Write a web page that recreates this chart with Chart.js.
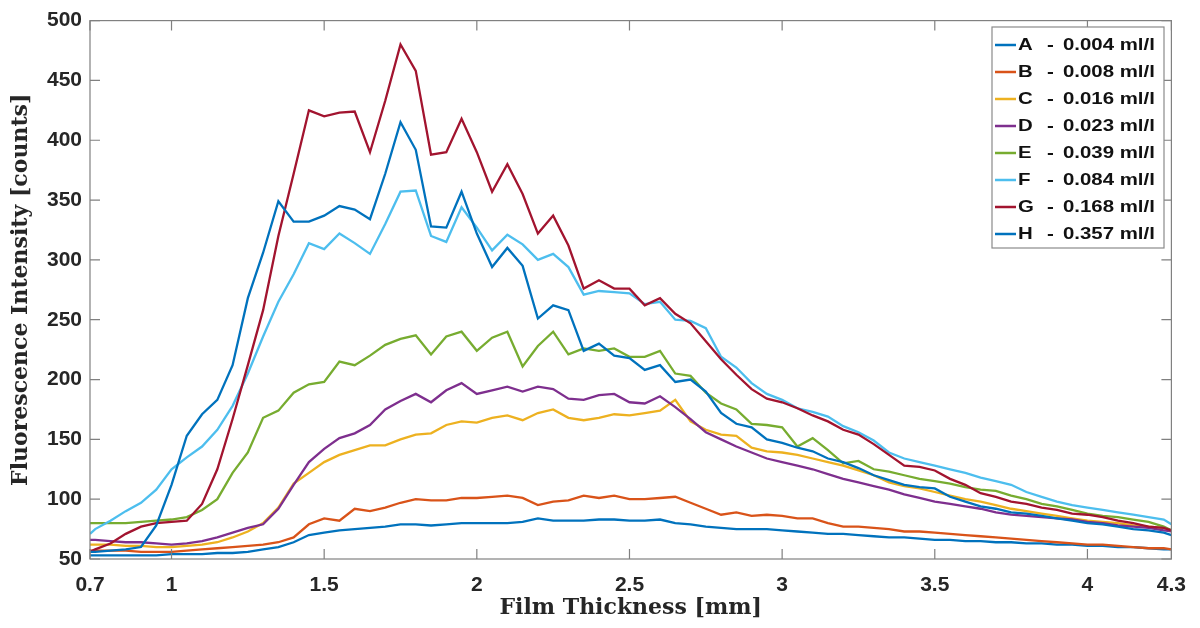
<!DOCTYPE html>
<html>
<head>
<meta charset="utf-8">
<script src="https://cdn.jsdelivr.net/npm/chart.js@4/dist/chart.umd.min.js"></script>
<style>
  html, body { margin: 0; padding: 0; background: #fff; }
  canvas { display: block; }
</style>
</head>
<body>
<canvas id="myChart" width="1200" height="628"></canvas>
<script>
// film thickness [mm] at which the curves were read
const thickness = [
  0.733, 0.75, 0.80, 0.85, 0.90, 0.95, 1.00, 1.05, 1.10, 1.15,
  1.20, 1.25, 1.30, 1.35, 1.40, 1.45, 1.50, 1.55, 1.60, 1.65,
  1.70, 1.75, 1.80, 1.85, 1.90, 1.95, 2.00, 2.05, 2.10, 2.15,
  2.20, 2.25, 2.30, 2.35, 2.40, 2.45, 2.50, 2.55, 2.60, 2.65,
  2.70, 2.75, 2.80, 2.85, 2.90, 2.95, 3.00, 3.05, 3.10, 3.15,
  3.20, 3.25, 3.30, 3.35, 3.40, 3.45, 3.50, 3.55, 3.60, 3.65,
  3.70, 3.75, 3.80, 3.85, 3.90, 3.95, 4.00, 4.05, 4.10, 4.15,
  4.20, 4.25, 4.275
];

const letters = ["A", "B", "C", "D", "E", "F", "G", "H"];
const concentrations = ["0.004 ml/l", "0.008 ml/l", "0.016 ml/l", "0.023 ml/l",
  "0.039 ml/l", "0.084 ml/l", "0.168 ml/l", "0.357 ml/l"];

// fluorescence intensity [counts]
const seriesA = [
  53, 53, 53, 53, 53, 53, 54, 54, 54, 55,
  55, 56, 58, 60, 64, 70, 72, 74, 75, 76,
  77, 79, 79, 78, 79, 80, 80, 80, 80, 81,
  84, 82, 82, 82, 83, 83, 82, 82, 83, 80,
  79, 77, 76, 75, 75, 75, 74, 73, 72, 71,
  71, 70, 69, 68, 68, 67, 66, 66, 65, 65,
  64, 64, 63, 63, 62, 62, 61, 61, 60, 60,
  59, 58, 58
];
const seriesB = [
  57, 57, 57, 57, 56, 56, 56, 57, 58, 59,
  60, 61, 62, 64, 68, 79, 84, 82, 92, 90,
  93, 97, 100, 99, 99, 101, 101, 102, 103, 101,
  95, 98, 99, 103, 101, 103, 100, 100, 101, 102,
  97, 92, 87, 89, 86, 87, 86, 84, 84, 80,
  77, 77, 76, 75, 73, 73, 72, 71, 70, 69,
  68, 67, 66, 65, 64, 63, 62, 62, 61, 60,
  59, 59, 58
];
const seriesC = [
  62, 62, 62, 61, 61, 60, 60, 61, 62, 64,
  68, 73, 80, 93, 113, 122, 131, 137, 141, 145,
  145, 150, 154, 155, 162, 165, 164, 168, 170, 166,
  172, 175, 168, 166, 168, 171, 170, 172, 174, 183,
  165, 158, 154, 153, 143, 140, 139, 137, 134, 131,
  128, 124, 120, 114, 111, 109, 106, 103, 100, 98,
  95, 92, 90, 88, 86, 84, 82, 81, 80, 78,
  77, 76, 74
];
const seriesD = [
  66, 66, 65, 64, 64, 63, 62, 63, 65, 68,
  72, 76, 79, 92, 112, 131, 142, 151, 155, 162,
  175, 182, 188, 181, 191, 197, 188, 191, 194, 190,
  194, 192, 184, 183, 187, 188, 181, 180, 186, 177,
  167, 156, 150, 144, 139, 134, 131, 128, 125, 121,
  117, 114, 111, 108, 104, 101, 98, 96, 94, 92,
  89, 87, 86, 85, 84, 83, 81, 80, 78, 77,
  76, 74, 73
];
const seriesE = [
  80, 80, 80, 80, 81, 82, 83, 85, 91, 100,
  122, 139, 168, 174, 189, 196, 198, 215, 212, 220,
  229, 234, 237, 221, 236, 240, 224, 235, 240, 211,
  228, 240, 221, 226, 224, 226, 219, 219, 224, 205,
  203, 189, 180, 175, 163, 162, 160, 144, 151, 141,
  130, 132, 125, 123, 120, 117, 115, 113, 110, 108,
  107, 103, 100, 96, 94, 91, 88, 86, 85, 83,
  81, 77, 74
];
const seriesF = [
  71, 75, 82, 90, 97, 108, 125, 135, 144, 158,
  178, 205, 236, 265, 288, 314, 309, 322, 314, 305,
  330, 357, 358, 320, 315, 344, 327, 308, 321, 313,
  300, 305, 294, 271, 274, 273, 272, 263, 265, 250,
  249, 243, 219, 210, 197, 188, 183, 176, 173, 169,
  161, 156, 149, 139, 134, 131, 128, 125, 122, 118,
  115, 112, 106, 102, 98, 95, 93, 91, 89, 87,
  85, 83, 79
];
const seriesG = [
  56, 58, 63, 71, 77, 80, 81, 82, 96, 125,
  167, 212, 258, 320, 372, 425, 420, 423, 424, 390,
  433, 480, 458, 388, 390, 418, 390, 357, 380, 355,
  322, 337, 312, 276, 283, 276, 276, 262, 268, 255,
  247, 232, 217, 204, 192, 184, 181, 176, 170, 165,
  158, 154, 146, 137, 128, 127, 124, 117, 112, 105,
  102, 98, 96, 93, 91, 88, 87, 85, 82, 80,
  77, 76, 74
];
const seriesH = [
  56, 56, 57, 58, 60, 78, 112, 153, 171, 183,
  212, 268, 306, 349, 332, 332, 337, 345, 342, 334,
  372, 415, 392, 328, 327, 357, 322, 294, 310, 295,
  251, 262, 258, 224, 230, 220, 218, 208, 212, 198,
  200, 190, 172, 163, 160, 150, 147, 143, 140, 134,
  131, 126, 120, 116, 112, 110, 109, 102, 98, 94,
  92, 89, 88, 86, 84, 82, 80, 79, 77, 75,
  74, 72, 70
];

const xTickValues = [0.733, 1, 1.5, 2, 2.5, 3, 3.5, 4, 4.275];
const yTickValues = [50, 100, 150, 200, 250, 300, 350, 400, 450, 500];

const lineColors = ["#0072BD", "#D95319", "#EDB120", "#7E2F8E",
  "#77AC30", "#4DBEEE", "#A2142F", "#0072BD"];

const allSeries = [seriesA, seriesB, seriesC, seriesD, seriesE, seriesF, seriesG, seriesH];

const datasets = allSeries.map((values, i) => ({
  label: letters[i] + "  -  " + concentrations[i],
  data: values.map((v, j) => ({ x: thickness[j], y: v })),
  borderColor: lineColors[i],
  borderWidth: 2.3,
  pointRadius: 0,
  fill: false,
  tension: 0,
  order: allSeries.length - i
}));

// the figure text is a bit wider than the font, stretch it like the original
function stretchedText(ctx, text, x, y, sx) {
  ctx.save();
  ctx.translate(x, y);
  ctx.scale(sx, 1);
  ctx.fillText(text, 0, 0);
  ctx.restore();
}

// matlab style box with inward ticks, plus the boxed legend
const matlabBox = {
  id: "matlabBox",
  afterDatasetsDraw(chart) {
    const { ctx, chartArea: a, scales } = chart;
    ctx.save();
    ctx.strokeStyle = "#808080";
    ctx.lineWidth = 1.2;
    ctx.strokeRect(a.left, a.top, a.right - a.left, a.bottom - a.top);
    ctx.beginPath();
    scales.x.ticks.forEach((t) => {
      const px = scales.x.getPixelForValue(t.value);
      ctx.moveTo(px, a.bottom); ctx.lineTo(px, a.bottom - 10);
      ctx.moveTo(px, a.top); ctx.lineTo(px, a.top + 10);
    });
    scales.y.ticks.forEach((t) => {
      const py = scales.y.getPixelForValue(t.value);
      ctx.moveTo(a.left, py); ctx.lineTo(a.left + 10, py);
      ctx.moveTo(a.right, py); ctx.lineTo(a.right - 10, py);
    });
    ctx.stroke();

    // legend
    const bx = 992, by = 27, bw = 172, bh = 221;
    ctx.fillStyle = "#fff";
    ctx.fillRect(bx, by, bw, bh);
    ctx.strokeStyle = "#8a8a8a";
    ctx.lineWidth = 1.2;
    ctx.strokeRect(bx, by, bw, bh);
    ctx.font = "bold 17px 'Liberation Sans', Arial, sans-serif";
    ctx.textBaseline = "middle";
    ctx.textAlign = "left";
    ctx.fillStyle = "#111";
    chart.data.datasets.forEach((ds, i) => {
      const y = 45 + i * 27;
      ctx.strokeStyle = ds.borderColor;
      ctx.lineWidth = 2.5;
      ctx.beginPath();
      ctx.moveTo(995, y); ctx.lineTo(1016, y);
      ctx.stroke();
      stretchedText(ctx, letters[i], 1018, y, 1.2);
      stretchedText(ctx, "-", 1047, y, 1.2);
      stretchedText(ctx, concentrations[i], 1063, y, 1.2);
    });
    ctx.restore();
  }
};

const tickFont = { family: "'Liberation Sans', Arial, sans-serif", size: 21, weight: "bold" };
const titleFont = { family: "'DejaVu Serif', serif", size: 22, weight: "bold" };

new Chart("myChart", {
  type: "line",
  data: { datasets: datasets },
  options: {
    responsive: false,
    animation: false,
    devicePixelRatio: 1,
    layout: { padding: { top: 18, right: 26, left: 0, bottom: 0 } },
    plugins: {
      legend: { display: false },
      tooltip: { enabled: false }
    },
    scales: {
      x: {
        type: "linear",
        min: 0.733,
        max: 4.275,
        afterBuildTicks: (scale) => {
          scale.ticks = xTickValues.map((v) => ({ value: v }));
        },
        afterFit: (scale) => { scale.height = 69; },
        ticks: {
          font: tickFont,
          color: "#262626",
          padding: 14,
          maxRotation: 0,
          autoSkip: false,
          callback: (v) => String(+Number(v).toFixed(1))
        },
        grid: { display: false, drawTicks: false },
        border: { display: false },
        title: {
          display: true,
          text: "Film Thickness [mm]",
          font: titleFont,
          color: "#262626",
          padding: { top: 0, bottom: 7 }
        }
      },
      y: {
        min: 50,
        max: 500,
        afterBuildTicks: (scale) => {
          scale.ticks = yTickValues.map((v) => ({ value: v }));
        },
        afterFit: (scale) => { scale.width = 90; },
        ticks: {
          font: tickFont,
          color: "#262626",
          padding: 8
        },
        grid: { display: false, drawTicks: false },
        border: { display: false },
        title: {
          display: true,
          text: "Fluorescence Intensity [counts]",
          font: titleFont,
          color: "#262626",
          padding: { top: 8, bottom: 0 }
        }
      }
    }
  },
  plugins: [matlabBox]
});
</script>
</body>
</html>
